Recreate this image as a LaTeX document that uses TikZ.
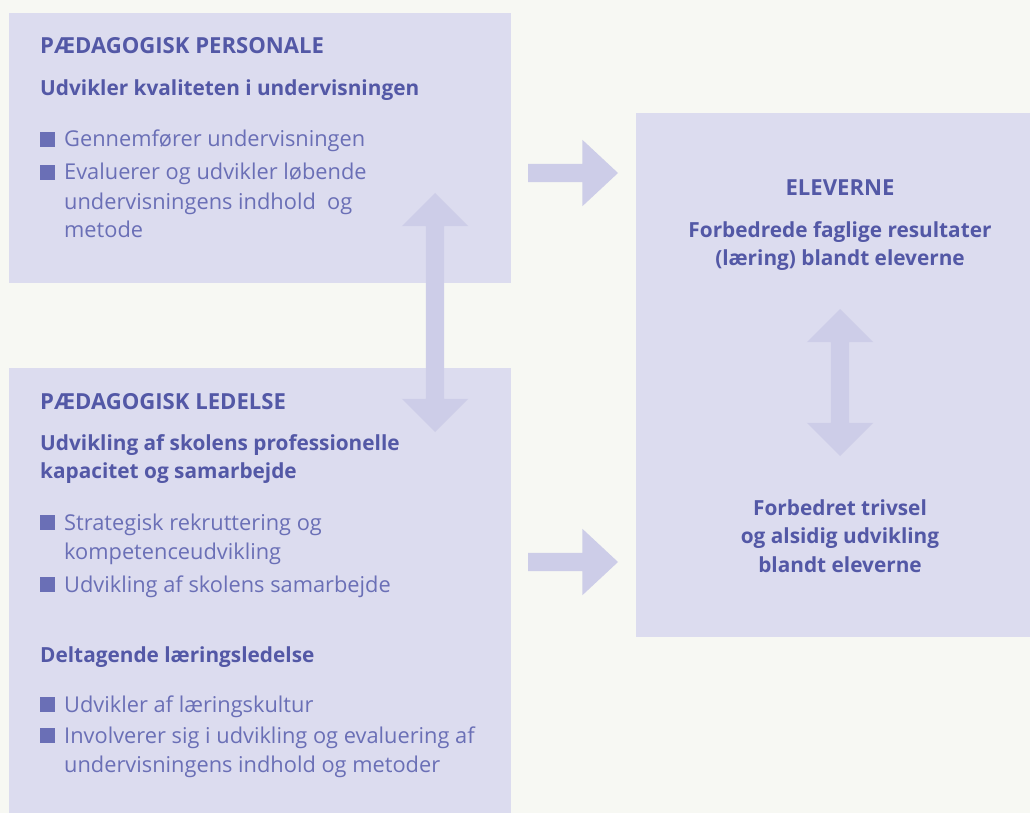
\documentclass[tikz,border=0pt]{standalone}
\usepackage{fontspec}
\setmainfont{Open Sans}
\usetikzlibrary{shapes.arrows}

\definecolor{bgc}{HTML}{F7F8F3}
\definecolor{boxc}{HTML}{DCDCEF}
\definecolor{arrc}{HTML}{CDCDE8}
\definecolor{headc}{HTML}{5358A6}
\definecolor{txtc}{HTML}{6A6FB6}

\newcommand{\lns}[1]{\begin{tabular}[t]{@{}l@{}}#1\end{tabular}}
\newcommand{\clns}[1]{\begin{tabular}[t]{@{}c@{}}#1\end{tabular}}

\tikzset{
  panel/.style={fill=boxc, inner sep=0pt, outer sep=0pt, anchor=north west},
  ttl/.style={anchor=base west, inner sep=0pt, text=headc,
    font=\bfseries\fontsize{22.1}{28}\selectfont},
  head/.style={anchor=base west, inner sep=0pt, text=headc,
    font=\bfseries\fontsize{20.8}{28.5}\selectfont},
  item/.style={anchor=base west, inner sep=0pt, text=txtc,
    font=\fontsize{21.8}{29}\selectfont},
  sq/.style={fill=txtc, minimum size=15pt, inner sep=0pt, anchor=south west},
  fatarrow/.style={single arrow, fill=arrc, inner sep=9pt, minimum height=90pt,
    minimum width=66pt, single arrow head extend=24pt, single arrow tip angle=86,
    outer sep=0pt, anchor=tail},
  twoway/.style={double arrow, fill=arrc, inner sep=9pt, minimum width=66pt,
    double arrow head extend=24pt, outer sep=0pt, rotate=90}
}

\begin{document}
\begin{tikzpicture}[x=1pt, y=-1pt]
\fill[bgc] (0,0) rectangle (1030,813);
\useasboundingbox (0,0) rectangle (1030,813);
\node[panel, minimum width=502pt, minimum height=270pt] (pers) at (9,13) {};
\node[panel, minimum width=502pt, minimum height=445pt] (led) at (9,368) {};
\node[panel, minimum width=394pt, minimum height=524pt] (elev) at (636,113) {};

\node[fatarrow] (p2e) at (528,173) {};
\node[fatarrow] (l2e) at (528,562) {};
\node[twoway, minimum height=239pt] (p2l) at (435,312.5) {};
\node[twoway, minimum height=147pt] (r2t) at (840,382.5) {};

\node[ttl] (pt) at (40,54) {PÆDAGOGISK PERSONALE};
\node[head] (ps) at (40,96) {Udvikler kvaliteten i undervisningen};
\node[item] (p1) at (64,147) {Gennemfører undervisningen};
\node[item] (p2) at (64,180) {\lns{Evaluerer og udvikler løbende\\undervisningens indhold\ \ og\\metode}};

\node[ttl] (lt) at (40,409) {PÆDAGOGISK LEDELSE};
\node[head] (ls) at (40,450) {\lns{Udvikling af skolens professionelle\\kapacitet og samarbejde}};
\node[item] (l1) at (64,530) {\lns{Strategisk rekruttering og\\kompetenceudvikling}};
\node[item] (l2) at (64,592) {Udvikling af skolens samarbejde};
\node[head] (dl) at (40,662) {Deltagende læringsledelse};
\node[item] (l3) at (64,712) {Udvikler af læringskultur};
\node[item] (l4) at (64,743) {\lns{Involverer sig i udvikling og evaluering af\\undervisningens indhold og metoder}};

\foreach \b in {p1,p2,l1,l2,l3,l4}
  \node[sq] at ([xshift=-24pt]\b.base west) {};

\node[ttl, anchor=base] (et) at (840,196) {ELEVERNE};
\node[head, anchor=base] (e1) at (840,237) {\clns{Forbedrede faglige resultater\\(læring) blandt eleverne}};
\node[head, anchor=base] (e2) at (840,515) {\clns{Forbedret trivsel\\og alsidig udvikling\\blandt eleverne}};
\end{tikzpicture}
\end{document}
